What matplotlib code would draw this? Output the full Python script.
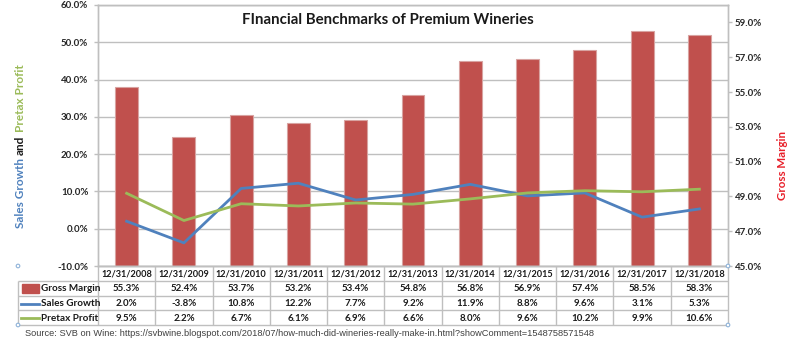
import matplotlib
matplotlib.use('Agg')
import matplotlib.pyplot as plt
import numpy as np
from matplotlib.patches import Rectangle, Circle

# 數據
dates = ['12/31/2008', '12/31/2009', '12/31/2010', '12/31/2011', '12/31/2012', '12/31/2013',
         '12/31/2014', '12/31/2015', '12/31/2016', '12/31/2017', '12/31/2018']
gross_margin = [55.3, 52.4, 53.7, 53.2, 53.4, 54.8, 56.8, 56.9, 57.4, 58.5, 58.3]
sales_growth = [2.0, -3.8, 10.8, 12.2, 7.7, 9.2, 11.9, 8.8, 9.6, 3.1, 5.3]
pretax_profit = [9.5, 2.2, 6.7, 6.1, 6.9, 6.6, 8.0, 9.6, 10.2, 9.9, 10.6]
left_ticks = [-10, 0, 10, 20, 30, 40, 50, 60]
right_ticks = [45, 47, 49, 51, 53, 55, 57, 59]

RED = '#C0504D'
BLUE = '#4F81BD'
GREEN = '#9BBB59'
GRID = '#bfbfbf'

plt.rcParams['font.family'] = ['Lato', 'DejaVu Sans']

W, H = 800, 340
fig = plt.figure(figsize=(8, 3.4), dpi=100)


def box(l, t, r, b):
    return [l / W, 1 - b / H, (r - l) / W, (b - t) / H]


# 左軸(折線)與右軸(長條)
axb = fig.add_axes(box(98, 5, 728, 266))
ax = axb.twinx()
axb.set_zorder(0)
ax.set_zorder(1)
ax.patch.set_visible(False)

x = np.arange(len(dates))
axb.set_xlim(-0.5, len(dates) - 0.5)
ax.set_ylim(-10, 60)
axb.set_ylim(45, 60)

axb.hlines(left_ticks, -0.5, len(dates) - 0.5, colors=GRID, linewidth=1,
           transform=ax.transData, zorder=0)
axb.bar(x, gross_margin, width=0.4, color=RED, edgecolor='#d8a3a1', linewidth=0.8, zorder=2)

ax.plot(x, sales_growth, color=BLUE, linewidth=2, zorder=3)
ax.plot(x, pretax_profit, color=GREEN, linewidth=2, zorder=3)

# 左軸放在左側, 右軸放在右側
ax.yaxis.tick_left()
axb.yaxis.tick_right()
ax.set_yticks(left_ticks)
ax.set_yticklabels([f'{v:.1f}%' for v in left_ticks])
axb.set_yticks(right_ticks)
axb.set_yticklabels([f'{v:.1f}%' for v in right_ticks])
for a in (ax, axb):
    a.set_xticks([])
    a.tick_params(axis='y', length=3, width=1, color=GRID, labelsize=7, pad=2)
    for lab in a.get_yticklabels():
        lab.set_fontweight('bold')
        lab.set_color('#262626')
    for s in a.spines.values():
        s.set_color(GRID)
        s.set_linewidth(1)
ax.tick_params(axis='y', pad=4)

# 標題
fig.text(388 / W, 1 - 20 / H, 'FInancial Benchmarks of Premium Wineries',
         ha='center', va='center', fontsize=10.8, fontweight='bold', color='#1a1a1a')

# 資料表
tab = fig.add_axes(box(98, 266, 728, 325))
tab.set_xlim(-0.5, len(dates) - 0.5)
tab.set_ylim(4, 0)
tab.axis('off')
px = 630 / len(dates)
xl = -0.5 - 80 / px

tab.hlines(0, -0.5, len(dates) - 0.5, colors=GRID, linewidth=1, clip_on=False)
tab.hlines([1, 2, 3, 4], xl, len(dates) - 0.5, colors=GRID, linewidth=1, clip_on=False)
tab.vlines(np.arange(len(dates) + 1) - 0.5, 0, 4, colors=GRID, linewidth=1, clip_on=False)
tab.vlines(xl, 1, 4, colors=GRID, linewidth=1, clip_on=False)

for i, d in enumerate(dates):
    tab.text(i, 0.55, d, ha='center', va='center', fontsize=6.6, fontweight='bold', color='#1a1a1a')
rows = [('Gross Margin', gross_margin, RED), ('Sales Growth', sales_growth, BLUE),
        ('Pretax Profit', pretax_profit, GREEN)]
for r, (name, vals, c) in enumerate(rows):
    yy = r + 1.55
    for i, v in enumerate(vals):
        tab.text(i, yy, f'{v:.1f}%', ha='center', va='center', fontsize=7,
                 fontweight='bold', color='#1a1a1a')
    tab.text(xl + 23 / px, yy, name, ha='left', va='center', fontsize=7.2,
             fontweight='bold', color='#1a1a1a', clip_on=False)
    if r == 0:
        tab.add_patch(Rectangle((xl + 4 / px, yy - 0.3), 17 / px, 0.6, color=c, clip_on=False))
    else:
        tab.plot([xl + 3 / px, xl + 21 / px], [yy, yy], color=c, linewidth=2, clip_on=False)

# 選取控制點
ov = fig.add_axes([0, 0, 1, 1], zorder=5)
ov.set_xlim(0, W)
ov.set_ylim(H, 0)
ov.axis('off')
for cx, cy in [(18, 266), (18, 325), (728, 266), (728, 325)]:
    ov.add_patch(Circle((cx, cy), 1.8, facecolor='white', edgecolor='#8fb3d9', linewidth=0.8))

# 來源
fig.text(25 / W, 1 - 333 / H,
         'Source: SVB on Wine: https://svbwine.blogspot.com/2018/07/how-much-did-wineries-really-make-in.html?showComment=1548758571548',
         ha='left', va='center', fontsize=6.7, family='Liberation Sans', color='#404040')

# 右軸標題
fig.text(782 / W, 1 - 166 / H, 'Gross Margin', rotation=90, ha='center', va='center',
         fontsize=8.3, fontweight='bold', color='#e8202a')

# 左軸標題 (多色)
parts = [('Sales Growth', BLUE), ('and', '#1a1a1a'), ('Pretax Profit', GREEN)]
r = fig.canvas.get_renderer()
texts = []
for s, c in parts:
    t = fig.text(20 / W, 0, s, rotation=90, ha='center', va='bottom', fontsize=8.5,
                 fontweight='bold', color=c)
    texts.append(t)
hs = [t.get_window_extent(r).height for t in texts]
gap = 3
total = sum(hs) + gap * (len(hs) - 1)
y0 = (H - 146) - total / 2
for t, h in zip(texts, hs):
    t.set_y(y0 / H)
    y0 += h + gap

fig.savefig('out.png', dpi=100)
